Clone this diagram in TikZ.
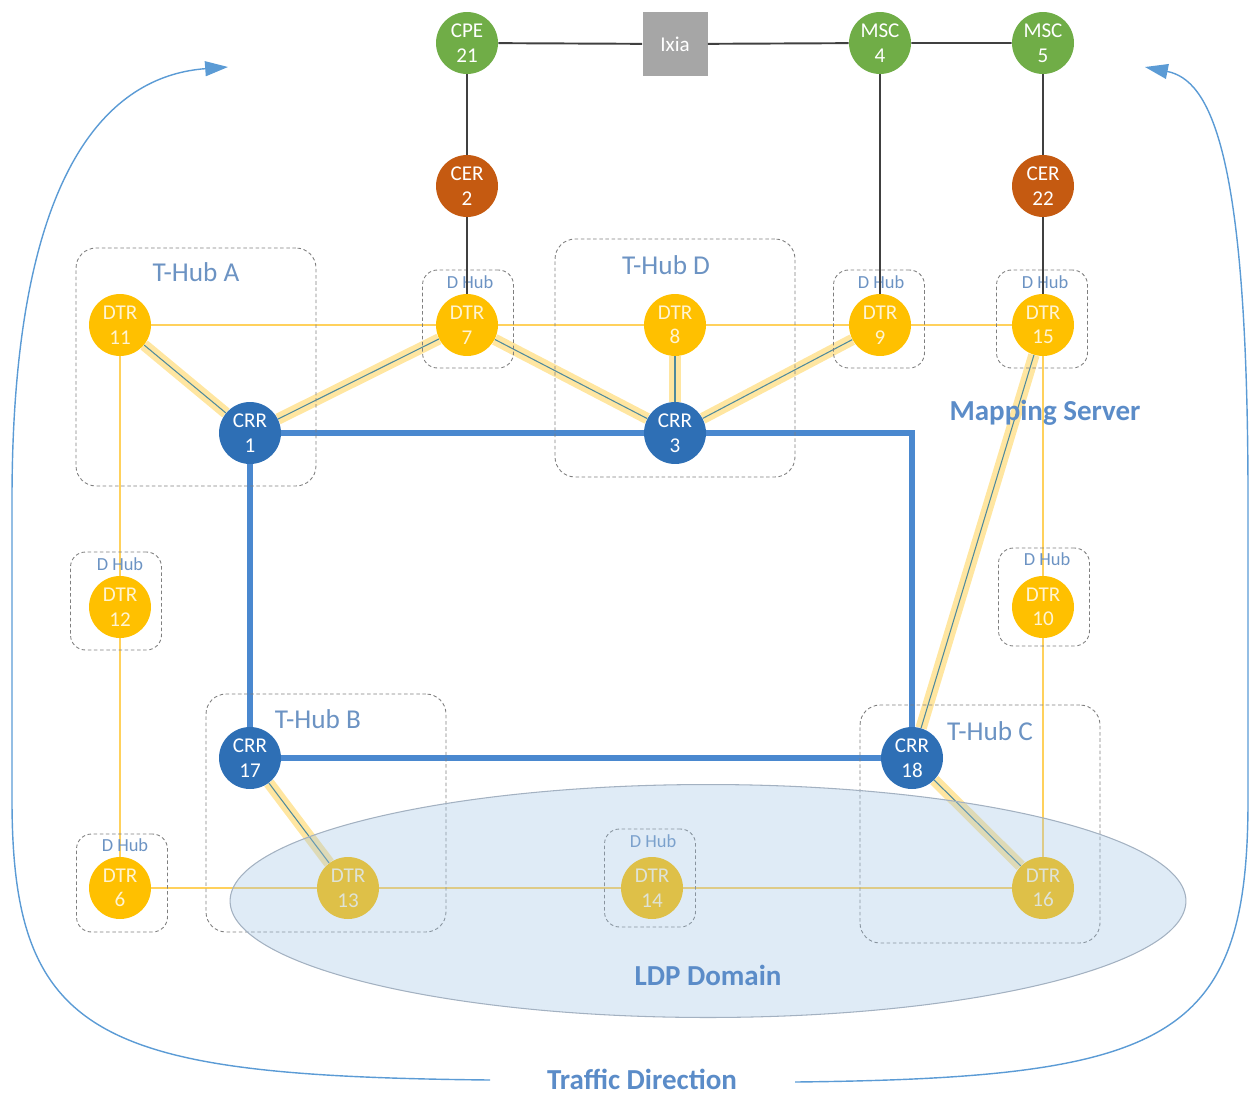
\documentclass[tikz,border=0pt]{standalone}
\usepackage{fontspec}
\setmainfont{Carlito}
\usepackage{tikz}
\usetikzlibrary{shapes, arrows.meta, positioning}
\usepackage{xcolor}

\definecolor{dtryellow}{HTML}{FFC000}
\definecolor{dtrtext}{HTML}{FFF4D2}
\definecolor{crrblue}{HTML}{2E6FB5}
\definecolor{cpegreen}{HTML}{70AD47}
\definecolor{cerbrown}{HTML}{C55A11}
\definecolor{ixiagray}{HTML}{A6A6A6}
\definecolor{boxgray}{HTML}{7F7F7F}
\definecolor{labelblue}{HTML}{6C93C3}
\definecolor{titleblue}{HTML}{5B8CC8}
\definecolor{ringblue}{HTML}{4A88CF}
\definecolor{linkyellow}{HTML}{FFD15C}
\definecolor{glow}{HTML}{FFE08A}
\definecolor{tealline}{HTML}{4F8A9C}
\definecolor{wiregray}{HTML}{404040}
\definecolor{flowblue}{HTML}{5B9BD5}
\definecolor{ellblue}{HTML}{9BC0E2}
\definecolor{ellgray}{HTML}{A3B1C1}

\pgfdeclarelayer{bg}
\pgfdeclarelayer{fg}
\pgfsetlayers{bg,main,fg}

\begin{document}
\begin{tikzpicture}[x=0.02cm, y=-0.02cm,
    dev/.style={circle, minimum size=1.24cm, inner sep=0pt, align=center, text=white, font=\fontsize{12}{14}\selectfont},
    dtr/.style={dev, fill=dtryellow, text=dtrtext},
    crr/.style={dev, fill=crrblue},
    cpe/.style={dev, fill=cpegreen},
    cer/.style={dev, fill=cerbrown},
    tester/.style={rectangle, fill=ixiagray, minimum size=1.3cm, inner sep=0pt, text=white, font=\fontsize{12}{14}\selectfont},
    thub/.style={rectangle, draw=boxgray, line width=0.5pt, dash pattern=on 2pt off 1.5pt, rounded corners=0.4cm, minimum width=4.8cm, minimum height=4.76cm},
    dhub/.style={thub, rounded corners=0.3cm, minimum width=1.82cm, minimum height=1.96cm},
    hublabel/.style={text=labelblue, font=\fontsize{15.5}{17}\selectfont},
    dlabel/.style={text=labelblue, inner sep=0pt, font=\fontsize{10.5}{12}\selectfont},
    title/.style={text=titleblue, font=\bfseries\fontsize{16.5}{18}\selectfont},
    ring/.style={draw=ringblue, line width=3.4pt},
    dlink/.style={draw=linkyellow, line width=1.1pt},
    ctrl/.style={draw=tealline, line width=0.6pt, preaction={draw=glow, draw opacity=0.8, line width=6.5pt}},
    wire/.style={draw=wiregray, line width=1.1pt},
    flow/.style={draw=flowblue, line width=0.8pt, -{Triangle[length=13pt, width=8.5pt]}}]
    \useasboundingbox (0,0) rectangle (1250,1095);

    % hub boxes
    \node (hubA) [thub] at (196,367) {};
    \node (hubD) [thub] at (675,358) {};
    \node (hubB) [thub] at (326,813) {};
    \node (hubC) [thub] at (980,824) {};
    \node (labA) [hublabel] at (196,272) {T-Hub A};
    \node (labD) [hublabel] at (666,265) {T-Hub D};
    \node (labB) [hublabel] at (318,719) {T-Hub B};
    \node (labC) [hublabel] at (990,731) {T-Hub C};

    \node (dh7) [dhub] at (468,319) {};
    \node (dh9) [dhub] at (879,319) {};
    \node (dh15) [dhub] at (1042,319) {};
    \node (dh12) [dhub] at (116,601) {};
    \node (dh10) [dhub] at (1044,597) {};
    \node (dh6) [dhub] at (122,883) {};
    \node (dh14) [dhub] at (650,878) {};
    \node (dl7) [dlabel] at (470,282) {D Hub};
    \node (dl9) [dlabel] at (881,282) {D Hub};
    \node (dl15) [dlabel] at (1045,282) {D Hub};
    \node (dl12) [dlabel] at (120,564) {D Hub};
    \node (dl10) [dlabel] at (1047,559) {D Hub};
    \node (dl6) [dlabel] at (125,845) {D Hub};
    \node (dl14) [dlabel] at (653,841) {D Hub};

    % devices
    \node (cpe21) [cpe] at (467,43) {CPE\\21};
    \node (ixia) [tester] at (675,44) {Ixia};
    \node (msc4) [cpe] at (880,43) {MSC\\4};
    \node (msc5) [cpe] at (1043,43) {MSC\\5};
    \node (cer2) [cer] at (467,186) {CER\\2};
    \node (cer22) [cer] at (1043,186) {CER\\22};

    \node (dtr11) [dtr] at (120,325) {DTR\\11};
    \node (dtr7) [dtr] at (467,325) {DTR\\7};
    \node (dtr8) [dtr] at (675,325) {DTR\\8};
    \node (dtr9) [dtr] at (880,325) {DTR\\9};
    \node (dtr15) [dtr] at (1043,325) {DTR\\15};
    \node (crr1) [crr] at (250,433) {CRR\\1};
    \node (crr3) [crr] at (675,433) {CRR\\3};
    \node (dtr12) [dtr] at (120,607) {DTR\\12};
    \node (dtr10) [dtr] at (1043,607) {DTR\\10};
    \node (crr17) [crr] at (250,758) {CRR\\17};
    \node (crr18) [crr] at (912,758) {CRR\\18};
    \node (dtr6) [dtr] at (120,888) {DTR\\6};
    \node (dtr13) [dtr] at (348,888) {DTR\\13};
    \node (dtr14) [dtr] at (652,888) {DTR\\14};
    \node (dtr16) [dtr] at (1043,888) {DTR\\16};

    % links under the devices
    \begin{pgfonlayer}{bg}
    \draw [dlink] (dtr11) -- (dtr7) -- (dtr8) -- (dtr9) -- (dtr15);
    \draw [dlink] (dtr11) -- (dtr12) -- (dtr6) -- (dtr13) -- (dtr14) -- (dtr16);
    \draw [dlink] (dtr15) -- (dtr10) -- (dtr16);

    \draw [ctrl] (dtr11) -- (crr1);
    \draw [ctrl] (dtr7) -- (crr1);
    \draw [ctrl] (dtr7) -- (crr3);
    \draw [ctrl] (dtr8) -- (crr3);
    \draw [ctrl] (dtr9) -- (crr3);
    \draw [ctrl] (dtr15) -- (crr18);
    \draw [ctrl] (crr17) -- (dtr13);
    \draw [ctrl] (crr18) -- (dtr16);

    \draw [ring] (crr1) -- (crr3) -| (crr18);
    \draw [ring] (crr18) -- (crr17) -- (crr1);
    \end{pgfonlayer}

    \draw [wire] (cpe21) -- (ixia) -- (msc4) -- (msc5);
    \draw [wire] (cpe21) -- (cer2) -- (dtr7);
    \draw [wire] (msc4) -- (dtr9);
    \draw [wire] (msc5) -- (cer22) -- (dtr15);

    \node (mapping) [title] at (1045,413) {Mapping Server};

    % LDP domain over the lower row
    \begin{pgfonlayer}{fg}
    \node (ldp) [ellipse, draw=ellgray, line width=0.6pt, fill=ellblue, fill opacity=0.32, minimum width=19.12cm, minimum height=4.66cm] at (708,901) {};
    \node (ldplabel) [title] at (708,975) {LDP Domain};
    \end{pgfonlayer}

    % traffic direction
    \node (traffic) [title] at (642,1079) {Traffic Direction};
    \coordinate (flowL) at (490,1080);
    \coordinate (tipL) at (228,67);
    \coordinate (flowR) at (795,1082);
    \coordinate (tipR) at (1145,67);
    \draw [flow] (flowL) .. controls (100,1076) and (12,1040) .. (12,800) -- (12,500) .. controls (12,150) and (120,75) .. (tipL);
    \draw [flow] (flowR) .. controls (1170,1078) and (1248,1040) .. (1248,800) -- (1248,500) .. controls (1248,150) and (1210,80) .. (tipR);
\end{tikzpicture}
\end{document}
